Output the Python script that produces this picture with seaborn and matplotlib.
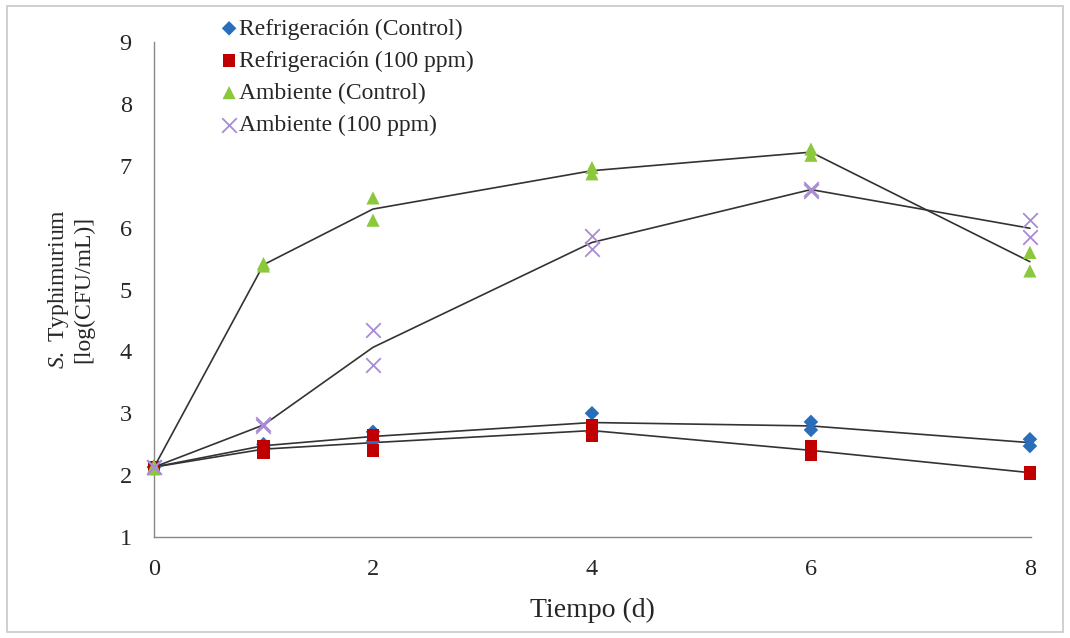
import numpy as np
import pandas as pd
import matplotlib
matplotlib.use('Agg')
import matplotlib.pyplot as plt
import matplotlib.patches as patches
import seaborn as sns

# tiempos (dias) y replicas
dias = [0, 1, 2, 4, 6, 8]
refri_control_a = [2.13, 2.50, 2.70, 3.00, 2.86, 2.58]
refri_control_b = [2.13, 2.45, 2.55, 2.70, 2.73, 2.47]
refri_100_a = [2.13, 2.47, 2.65, 2.80, 2.47, 2.05]
refri_100_b = [2.13, 2.37, 2.40, 2.64, 2.33, 2.03]
amb_control_a = [2.15, 5.42, 6.48, 6.97, 7.27, 5.60]
amb_control_b = [2.10, 5.38, 6.12, 6.87, 7.17, 5.30]
amb_100_a = [2.13, 2.82, 4.35, 5.87, 6.63, 6.13]
amb_100_b = [2.13, 2.80, 3.78, 5.65, 6.60, 5.85]

series = ['Refrigeración (Control)', 'Refrigeración (100 ppm)',
          'Ambiente (Control)', 'Ambiente (100 ppm)']
replicas = [(refri_control_a, refri_control_b), (refri_100_a, refri_100_b),
            (amb_control_a, amb_control_b), (amb_100_a, amb_100_b)]

rows = []
for name, (a, b) in zip(series, replicas):
    for t, va, vb in zip(dias, a, b):
        rows.append({'Serie': name, 'Tiempo': t, 'valor': va})
        rows.append({'Serie': name, 'Tiempo': t, 'valor': vb})
df = pd.DataFrame(rows)

colores = {'Refrigeración (Control)': '#2a6ebb', 'Refrigeración (100 ppm)': '#c00000',
           'Ambiente (Control)': '#8cc83c', 'Ambiente (100 ppm)': '#a98bd4'}
marcas = {'Refrigeración (Control)': 'D', 'Refrigeración (100 ppm)': 's',
          'Ambiente (Control)': '^', 'Ambiente (100 ppm)': 'x'}
tamanos = {'Refrigeración (Control)': 55, 'Refrigeración (100 ppm)': 85,
           'Ambiente (Control)': 90, 'Ambiente (100 ppm)': 110}

sns.set_style('white')
plt.rcParams['font.family'] = ['Liberation Serif', 'DejaVu Serif']
plt.rcParams['mathtext.fontset'] = 'custom'
plt.rcParams['mathtext.rm'] = 'Liberation Serif'
plt.rcParams['mathtext.it'] = 'Liberation Serif:italic'

fig = plt.figure(figsize=(10.7, 6.38), dpi=100)
ax = fig.add_axes([154 / 1070, 1 - 537 / 638, (1031 - 154) / 1070, (537 - 42) / 638])

# lineas por la media de las replicas
sns.lineplot(data=df, x='Tiempo', y='valor', hue='Serie', palette={s: '#333333' for s in series},
             estimator='mean', errorbar=None, legend=False, linewidth=1.2, ax=ax)

for s in series:
    sub = df[df['Serie'] == s]
    if marcas[s] == 'x':
        sns.scatterplot(data=sub, x='Tiempo', y='valor', marker='x', color=colores[s],
                        s=tamanos[s], linewidth=1.3, label=s, clip_on=False, zorder=3, ax=ax)
    else:
        sns.scatterplot(data=sub, x='Tiempo', y='valor', marker=marcas[s], color=colores[s],
                        s=tamanos[s], edgecolor='none', label=s, clip_on=False, zorder=3, ax=ax)

ax.set_xlim(0, 8.01)
ax.set_ylim(1, 9)
ax.set_xticks([0, 2, 4, 6, 8])
ax.set_yticks(range(1, 10))
sns.despine(ax=ax)
for sp in ['left', 'bottom']:
    ax.spines[sp].set_color('#888888')
    ax.spines[sp].set_linewidth(1.0)
ax.tick_params(axis='both', direction='out', color='#888888', labelsize=17.5)
ax.tick_params(axis='y', length=8, pad=8)
ax.tick_params(axis='x', length=6, pad=10)

ax.set_xlabel('Tiempo (d)', fontsize=20, labelpad=13)
ax.set_ylabel('$\\it{S.}$ Typhimurium\n[log(CFU/mL)]', fontsize=17, labelpad=18, linespacing=1.12)

handles, labels = ax.get_legend_handles_labels()
fig.legend(handles, labels, loc='upper left', bbox_to_anchor=(222 / 1070, 1 - 18 / 638),
           frameon=False, fontsize=17, handlelength=0.6, handletextpad=0.1,
           labelspacing=0.45, borderpad=0, borderaxespad=0)
ax.get_legend().remove()

fig.patches.append(patches.Rectangle((7 / 1070, 6 / 638), 1056 / 1070, 626 / 638,
                                     transform=fig.transFigure, fill=False,
                                     edgecolor='#c8c8c8', linewidth=1.2))

fig.savefig('out.png', dpi=100)
